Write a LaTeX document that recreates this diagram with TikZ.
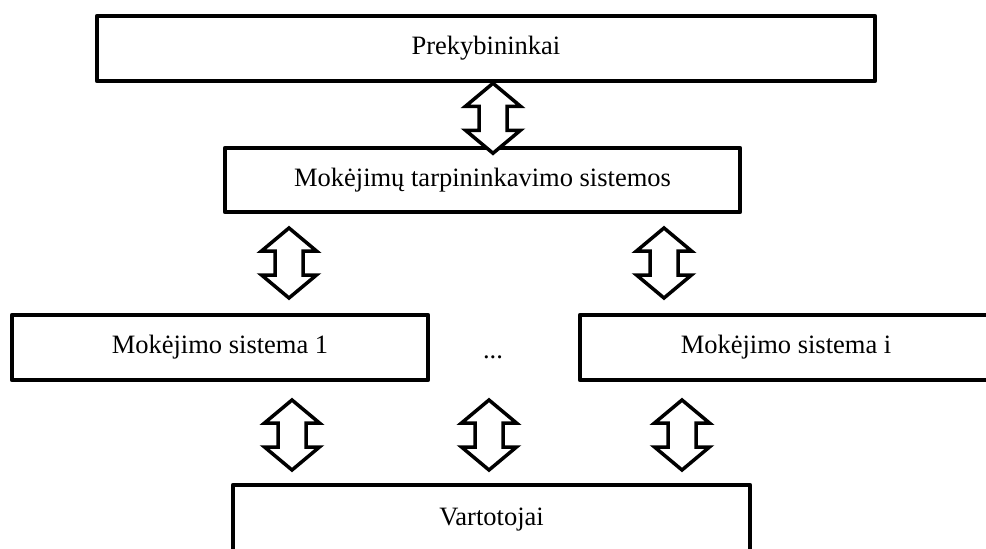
\documentclass[tikz,border=0pt]{standalone}
\usepackage{fontspec}
\setmainfont{Liberation Serif}
\begin{document}
\begin{tikzpicture}[x=1pt,y=-1pt,
  box/.style={draw, line width=4.5pt, line join=round, rectangle, inner sep=0pt,
    font=\fontsize{26.5}{30}\selectfont},
  pics/updown/.style={code={
    \draw[line width=3.5pt, line join=miter, fill=white]
      (0,0) -- (27.5,23) -- (14,23) -- (14,47) -- (27.5,47) -- (0,70)
      -- (-27.5,47) -- (-14,47) -- (-14,23) -- (-27.5,23) -- cycle;}}]
\useasboundingbox (0,0) rectangle (986,549);
\clip (0,0) rectangle (986,549);

% boxes
\node[box, minimum width=778pt, minimum height=65pt] (prek) at (486,48.5) {Prekybininkai};
\node[box, minimum width=515pt, minimum height=64pt] (tarp) at (482.5,180) {Mokėjimų tarpininkavimo sistemos};
\node[box, minimum width=416pt, minimum height=65pt] (sys1) at (220,347.5) {Mokėjimo sistema 1};
\node[box, minimum width=412pt, minimum height=65pt] (sysi) at (786,347.5) {Mokėjimo sistema i};
\node[box, minimum width=517pt, minimum height=70pt] (vart) at (491.5,520) {Vartotojai};
\node[font=\fontsize{26.5}{30}\selectfont, anchor=base] (dots) at (493,358) {...};

% double-headed connectors
\coordinate (a1) at (prek.south -| 493,0);
\coordinate (a2) at (289,228);
\coordinate (a3) at (664,228);
\coordinate (a4) at (292,400);
\coordinate (a5) at (489,400);
\coordinate (a6) at (682,400);
\foreach \c in {a1,a2,a3,a4,a5,a6} \pic at (\c) {updown};
\end{tikzpicture}
\end{document}
